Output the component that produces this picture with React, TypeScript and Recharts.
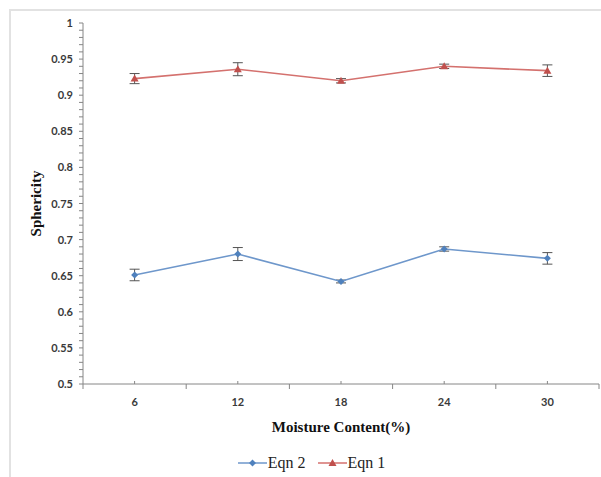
import React from 'react';
import { LineChart, Line, XAxis, YAxis, ErrorBar, Legend } from 'recharts';

// moisture content (%) categories
const moisture = [6, 12, 18, 24, 30];
// sphericity, Eqn 1 and Eqn 2, with error bar half-widths
const eqn1 = [0.923, 0.936, 0.92, 0.94, 0.934];
const eqn1Err = [0.007, 0.009, 0.003, 0.003, 0.008];
const eqn2 = [0.651, 0.68, 0.642, 0.687, 0.674];
const eqn2Err = [0.008, 0.009, 0.002, 0.003, 0.008];

// axis ticks
const xBounds = [3, 9, 15, 21, 27, 33];
const legendOrder = ['Eqn 2', 'Eqn 1'];

const data = moisture.map((m, i) => ({
  moisture: m,
  eqn1: eqn1[i],
  eqn1Err: eqn1Err[i],
  eqn2: eqn2[i],
  eqn2Err: eqn2Err[i],
}));

const yTicks: number[] = [];
for (let k = 50; k <= 100; k++) yTicks.push(k / 100);
const xTicks = [...xBounds, ...moisture].sort((a, b) => a - b);

const AXIS = '#868686';
const LABEL = '#3a3a3a';
const RED = '#c0504d';
const RED_LINE = '#d4716e';
const BLUE = '#4f81bd';
const BLUE_LINE = '#6e97cb';
const SERIF = '"Liberation Serif", "Times New Roman", serif';
const SANS = 'Lato, "Open Sans", sans-serif';

const YTick = (props: any) => {
  const { x, y, payload } = props;
  const v = Math.round(payload.value * 100);
  if (v % 5 !== 0) return null;
  return (
    <text x={x} y={y} dy={4} textAnchor="end" fontFamily={SANS} fontWeight={700} fontSize={11} fill={LABEL}>
      {String(v / 100)}
    </text>
  );
};

const XTick = (props: any) => {
  const { x, y, payload } = props;
  const isCat = moisture.includes(payload.value);
  if (!isCat) {
    return <line x1={x} x2={x} y1={y - 13} y2={y - 8} stroke={AXIS} />;
  }
  return (
    <g>
      <line x1={x} x2={x} y1={y - 13} y2={y - 16} stroke={AXIS} />
      <text x={x} y={y} dy={9} textAnchor="middle" fontFamily={SANS} fontWeight={700} fontSize={11} fill={LABEL}>
        {payload.value}
      </text>
    </g>
  );
};

const Diamond = (props: any) => {
  const { cx, cy } = props;
  if (cx == null || cy == null) return null;
  return <path d={`M${cx},${cy - 3.5}L${cx + 3.5},${cy}L${cx},${cy + 3.5}L${cx - 3.5},${cy}Z`} fill={BLUE} />;
};

const Triangle = (props: any) => {
  const { cx, cy } = props;
  if (cx == null || cy == null) return null;
  return <path d={`M${cx},${cy - 4}L${cx + 4},${cy + 3}L${cx - 4},${cy + 3}Z`} fill={RED} />;
};

const LegendContent = (props: any) => {
  const items = [...(props.payload || [])].sort(
    (a: any, b: any) => legendOrder.indexOf(a.value) - legendOrder.indexOf(b.value)
  );
  return (
    <div style={{ display: 'flex', justifyContent: 'center', alignItems: 'center', gap: 12, paddingLeft: 22 }}>
      {items.map((p: any) => {
        const isRed = p.dataKey === 'eqn1';
        return (
          <div key={p.value} style={{ display: 'flex', alignItems: 'center' }}>
            <svg width={29} height={10}>
              <line x1={0} x2={29} y1={5} y2={5} stroke={isRed ? RED_LINE : BLUE_LINE} strokeWidth={1.5} />
              {isRed ? <Triangle cx={14.5} cy={5} /> : <Diamond cx={14.5} cy={5} />}
            </svg>
            <span style={{ fontFamily: SERIF, fontSize: 16, color: '#222', marginLeft: 1 }}>{p.value}</span>
          </div>
        );
      })}
    </div>
  );
};

export default function App() {
  return (
    <div style={{ position: 'absolute', left: 0, top: 0, width: 601, height: 477, background: '#fff' }}>
      <div
        style={{
          position: 'absolute',
          left: 9,
          top: 9,
          right: 0,
          bottom: 0,
          borderTop: '2px solid #e2e2e2',
          borderLeft: '2px solid #e2e2e2',
        }}
      />
      <LineChart width={601} height={477} data={data} margin={{ top: 23, right: 2, bottom: 63, left: 10 }}>
        <XAxis
          dataKey="moisture"
          type="number"
          domain={[3, 33]}
          ticks={xTicks}
          interval={0}
          stroke={AXIS}
          tickLine={false}
          tickSize={5}
          tickMargin={8}
          height={30}
          tick={<XTick />}
          label={{
            content: (p: any) => {
              const vb = p.viewBox;
              return (
                <text
                  x={vb.x + vb.width / 2}
                  y={vb.y + vb.height + 18}
                  textAnchor="middle"
                  fontFamily={SERIF}
                  fontWeight={700}
                  fontSize={15}
                  fill="#111"
                >
                  Moisture Content(%)
                </text>
              );
            },
          }}
        />
        <YAxis
          type="number"
          domain={[0.5, 1]}
          ticks={yTicks}
          interval={0}
          width={73}
          stroke={AXIS}
          tickSize={4}
          tickMargin={6}
          tick={<YTick />}
          label={{
            content: (p: any) => {
              const vb = p.viewBox;
              const cx = vb.x + 26;
              const cy = vb.y + vb.height / 2;
              return (
                <text
                  x={cx}
                  y={cy}
                  transform={`rotate(-90 ${cx} ${cy})`}
                  textAnchor="middle"
                  dominantBaseline="central"
                  fontFamily={SERIF}
                  fontWeight={700}
                  fontSize={15}
                  fill="#111"
                >
                  Sphericity
                </text>
              );
            },
          }}
        />
        <Line
          dataKey="eqn2"
          name="Eqn 2"
          stroke={BLUE_LINE}
          strokeWidth={1.6}
          dot={<Diamond />}
          activeDot={false}
          isAnimationActive={false}
        >
          <ErrorBar dataKey="eqn2Err" direction="y" width={5} stroke="#555" strokeWidth={1} />
        </Line>
        <Line
          dataKey="eqn1"
          name="Eqn 1"
          stroke={RED_LINE}
          strokeWidth={1.6}
          dot={<Triangle />}
          activeDot={false}
          isAnimationActive={false}
        >
          <ErrorBar dataKey="eqn1Err" direction="y" width={5} stroke="#555" strokeWidth={1} />
        </Line>
        <Legend
          layout="horizontal"
          verticalAlign="middle"
          align="center"
          content={<LegendContent />}
          wrapperStyle={{ top: 454, left: 0, width: 601 }}
        />
      </LineChart>
    </div>
  );
}
